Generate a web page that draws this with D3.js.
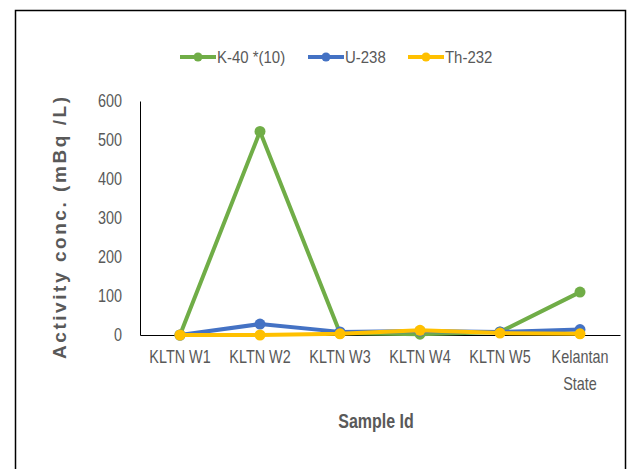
<html>
<head>
<script src="https://cdnjs.cloudflare.com/ajax/libs/d3/7.8.5/d3.min.js"></script>
<style>
body { margin: 0; background: #fff; }
text { font-family: "Liberation Sans", Arial, sans-serif; fill: #595959; }
</style>
</head>
<body>
<svg id="chart"></svg>
<script>

var categories = ["KLTN W1", "KLTN W2", "KLTN W3", "KLTN W4", "KLTN W5", "Kelantan State"]
var k40 = [0, 522, 5, 2, 8, 110]
var u238 = [0, 28, 8, 10, 8, 14]
var th232 = [0, 0, 3, 12, 5, 3]
var yTicks = [0, 100, 200, 300, 400, 500, 600]
var seriesNames = ["K-40 *(10)", "U-238", "Th-232"]
var seriesColors = ["#70AD47", "#4472C4", "#FFC000"]

var W = 629, H = 469
var svg = d3.select("#chart").attr("width", W).attr("height", H)

// no narrow font installed, so squeeze text horizontally
function condense(sel, s) {
  sel.each(function() {
    var t = d3.select(this)
    var x0 = +t.attr("x") || 0
    t.attr("x", x0 / s).attr("transform", "scale(" + s + ",1)")
  })
}

// outer frame
svg.append("rect")
  .attr("x", 15.5).attr("y", 10.5)
  .attr("width", 610).attr("height", 470)
  .attr("fill", "none").attr("stroke", "#000").attr("stroke-width", 1.5)

var x = d3.scaleBand().domain(categories).range([140, 620])
var y = d3.scaleLinear().domain([0, 600]).range([335, 101])

// y axis
var yAxis = svg.append("g")
  .attr("transform", "translate(140,0)")
  .call(d3.axisLeft(y).tickValues(yTicks).tickSize(0).tickPadding(18))
yAxis.select(".domain").attr("stroke", "#000").attr("stroke-width", 1)
yAxis.selectAll("text").style("font-size", "18px").attr("fill", "#595959")
  .call(condense, 0.8)

// x axis
var xAxis = svg.append("g")
  .attr("transform", "translate(0,335)")
  .call(d3.axisBottom(x).tickSize(0).tickPadding(15))
xAxis.select(".domain").attr("stroke", "#000").attr("stroke-width", 1)
xAxis.selectAll("text").style("font-size", "18px").attr("fill", "#595959")
  .each(function(d) {
    var t = d3.select(this)
    if (d === "Kelantan State") {
      t.text(null)
      t.append("tspan").attr("x", 0).attr("dy", "0.71em").text("Kelantan")
      t.append("tspan").attr("x", 0).attr("dy", "1.5em").text("State")
      t.attr("dy", null)
    }
  })
  .call(condense, 0.8)

// axis titles
svg.append("text")
  .attr("transform", "translate(66,228) rotate(-90)")
  .attr("text-anchor", "middle")
  .attr("textLength", 262)
  .attr("lengthAdjust", "spacing")
  .style("font-size", "19px").style("font-weight", "bold")
  .text("Activity  conc.  (mBq /L)")

svg.append("g").attr("transform", "translate(376,428)")
  .append("text")
  .attr("text-anchor", "middle")
  .style("font-size", "20px").style("font-weight", "bold")
  .text("Sample Id")
  .call(condense, 0.8)

// series
var allSeries = [k40, u238, th232]
var line = d3.line()
  .x(function(d, i) { return x(categories[i]) + x.bandwidth() / 2 })
  .y(function(d) { return y(d) })

allSeries.forEach(function(s, k) {
  svg.append("path")
    .datum(s)
    .attr("d", line)
    .attr("fill", "none")
    .attr("stroke", seriesColors[k])
    .attr("stroke-width", 4)
    .attr("stroke-linejoin", "round")
  svg.selectAll(".pt" + k)
    .data(s)
    .enter().append("circle")
    .attr("cx", function(d, i) { return x(categories[i]) + x.bandwidth() / 2 })
    .attr("cy", function(d) { return y(d) })
    .attr("r", 5.5)
    .attr("fill", seriesColors[k])
})

// legend
var legX = [180, 308, 408]
var leg = svg.append("g")
seriesNames.forEach(function(n, k) {
  var g = leg.append("g").attr("transform", "translate(" + legX[k] + ",57)")
  g.append("line").attr("x1", 0).attr("x2", 36).attr("y1", 0).attr("y2", 0)
    .attr("stroke", seriesColors[k]).attr("stroke-width", 4)
  g.append("circle").attr("cx", 18).attr("cy", 0).attr("r", 4.5).attr("fill", seriesColors[k])
  g.append("text").attr("x", 37).attr("y", 0).attr("dy", "0.35em")
    .style("font-size", "17px").text(n)
    .call(condense, 0.88)
})

</script>
</body>
</html>
